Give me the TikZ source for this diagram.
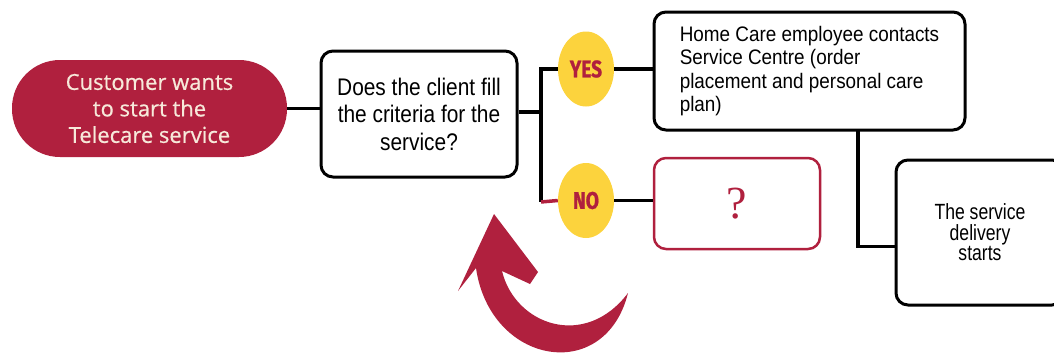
\documentclass[tikz,border=0pt]{standalone}
\usepackage{fontspec}
\setmainfont{Liberation Sans}
\newfontfamily\askfont[FakeStretch=0.87]{Liberation Sans}
\newfontfamily\stepfont[FakeStretch=0.9]{Liberation Sans}
\newfontfamily\endfont[FakeStretch=0.8]{Liberation Sans}
\newfontfamily\pillfont[FakeBold=0.6]{Open Sans}
\newfontfamily\badgefont[FakeStretch=0.8,FakeBold=0.8]{Fira Sans}
\newfontfamily\markfont{Liberation Serif}
\usetikzlibrary{shapes.geometric}
\definecolor{crimson}{HTML}{B0203E}
\definecolor{badgeyellow}{HTML}{FCD33D}
\definecolor{pilltext}{HTML}{F7E9DA}
\begin{document}
\begin{tikzpicture}[x=1pt,y=-1pt,
  box/.style={draw=black, line width=3pt, rounded corners=12pt, fill=white,
    inner sep=0pt, align=center},
  pill/.style={fill=crimson, rounded corners=48pt, minimum width=275pt,
    minimum height=97pt, inner sep=0pt, align=center, text=pilltext,
    font=\pillfont\fontsize{22}{26.5}\selectfont},
  badge/.style={ellipse, fill=badgeyellow, minimum width=56pt,
    minimum height=75pt, inner sep=0pt, text=crimson,
    font=\badgefont\bfseries\fontsize{24}{24}\selectfont},
  link/.style={line width=3.5pt, draw=black},
  redlink/.style={line width=3.5pt, draw=crimson}]
\useasboundingbox (0,0) rectangle (1054,356);

% start of the process
\node[pill] (start) at (149.5,108.5) {Customer wants\\to start the\\Telecare service};

% the decision
\node[box, minimum width=196pt, minimum height=126pt,
  font=\askfont\fontsize{24}{27.5}\selectfont] (ask) at (419,114)
  {Does the client fill\\the criteria for the\\service?};

% answers
\node[badge] (yes) at (586,69) {YES};
\node[badge] (no) at (586,200.5) {NO};

% outcome of a yes
\node[box, minimum width=311pt, minimum height=118pt,
  align=left, font=\stepfont\fontsize{21}{23.5}\selectfont] (order) at (809.5,71)
  {Home Care employee contacts\\Service Centre (order\\placement and personal care\\plan)};

% outcome of a no
\node[box, draw=crimson, line width=2.5pt, minimum width=166pt,
  minimum height=91pt, text=crimson,
  font=\markfont\fontsize{46}{46}\selectfont] (unknown) at (737,203.5) {?};

% final step
\node[box, minimum width=168pt, minimum height=145pt,
  font=\endfont\fontsize{22}{20.5}\selectfont] (delivery) at (980,232.5)
  {The service\\delivery\\starts};

% connectors
\coordinate (fork) at (541,112);
\coordinate (forkno) at (541,202);
\coordinate (drop) at (858,130);
\draw[link] (start.east) -- (start.east -| ask.west);
\draw[link] (ask.east |- fork) -- (fork);
\draw[link] (fork) |- (yes.west);
\draw[link] (fork) -- (forkno);
\draw[redlink] (forkno) -- (no.west);
\draw[link] (yes.east) -- (yes.east -| order.west);
\draw[link] (no.east) -- (no.east -| unknown.west);
\draw[link] (drop) |- ([yshift=-14pt]delivery.west);

% curved return arrow
\fill[crimson] (494,214) -- (538,272) -- (530,284) -- (502,271)
  .. controls (515,325) and (585,350) .. (628,293)
  .. controls (605,385) and (490,365) .. (476,268)
  -- (458,291) -- cycle;
\end{tikzpicture}
\end{document}
